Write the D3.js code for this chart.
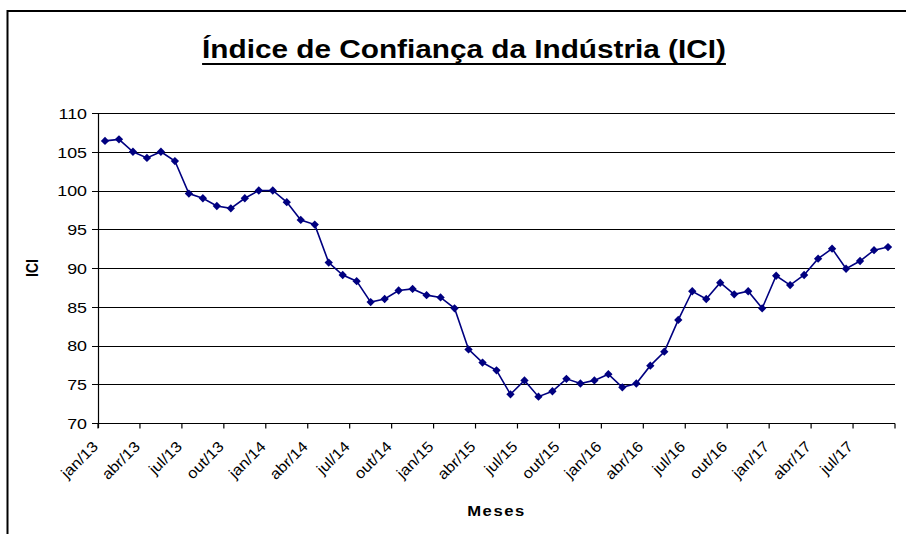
<!DOCTYPE html>
<html>
<head>
<meta charset="utf-8">
<script src="https://cdn.jsdelivr.net/npm/d3@7"></script>
<style>
  body { margin: 0; background: #fff; }
  svg text { font-family: "Liberation Sans", Arial, sans-serif; fill: #000; }
</style>
</head>
<body>
<div id="chart"></div>
<script>
// months jan/13 .. set/17
const months = [
    "jan/13", "fev/13", "mar/13", "abr/13", "mai/13", "jun/13", "jul/13", "ago/13", "set/13", "out/13", "nov/13", "dez/13",
    "jan/14", "fev/14", "mar/14", "abr/14", "mai/14", "jun/14", "jul/14", "ago/14", "set/14", "out/14", "nov/14", "dez/14",
    "jan/15", "fev/15", "mar/15", "abr/15", "mai/15", "jun/15", "jul/15", "ago/15", "set/15", "out/15", "nov/15", "dez/15",
    "jan/16", "fev/16", "mar/16", "abr/16", "mai/16", "jun/16", "jul/16", "ago/16", "set/16", "out/16", "nov/16", "dez/16",
    "jan/17", "fev/17", "mar/17", "abr/17", "mai/17", "jun/17", "jul/17", "ago/17", "set/17"
];
const iciValues = [
    106.4, 106.6, 105.0, 104.2, 105.0, 103.8, 99.6, 99.0, 98.0, 97.7, 99.0, 100.0,
    100.0, 98.5, 96.2, 95.6, 90.7, 89.1, 88.3, 85.6, 86.0, 87.1, 87.3, 86.5,
    86.2, 84.8, 79.5, 77.8, 76.8, 73.7, 75.5, 73.4, 74.1, 75.7, 75.1, 75.5,
    76.3, 74.6, 75.1, 77.4, 79.2, 83.3, 87.0, 86.0, 88.1, 86.6, 87.0, 84.8,
    89.0, 87.8, 89.1, 91.2, 92.5, 89.9, 90.9, 92.3, 92.7
];
const yTicks = [70, 75, 80, 85, 90, 95, 100, 105, 110];
const titleText = "Índice de Confiança da Indústria (ICI)";

const width = 906, height = 534;
const margin = { top: 113, right: 11, bottom: 111, left: 98 };
const plotW = width - margin.left - margin.right;
const plotH = height - margin.top - margin.bottom;
const stretch = 1.19; // the original picture is a bit wider than tall

const svg = d3.select("#chart").append("svg")
    .attr("width", width)
    .attr("height", height);

// outer chart frame (partly outside the picture)
svg.append("path")
    .attr("d", "M7.5,540V11H910")
    .attr("fill", "none")
    .attr("stroke", "#000")
    .attr("stroke-width", 2);

// title
const title = svg.append("text")
    .attr("transform", `translate(464,58) scale(${stretch},1)`)
    .attr("text-anchor", "middle")
    .style("font-size", "25px")
    .style("font-weight", "bold")
    .text(titleText);
const tw = title.node().getComputedTextLength() * stretch;
svg.append("line")
    .attr("x1", 464 - tw / 2).attr("x2", 464 + tw / 2)
    .attr("y1", 64).attr("y2", 64)
    .attr("stroke", "#000")
    .attr("stroke-width", 2.2);

const g = svg.append("g")
    .attr("transform", `translate(${margin.left},${margin.top})`);

const x = d3.scaleBand().domain(months).range([0, plotW]);
const y = d3.scaleLinear().domain([70, 110]).range([plotH, 0]);

// gridlines + left ticks
g.append("g")
    .selectAll("line")
    .data(yTicks)
    .join("line")
    .attr("x1", -6).attr("x2", plotW)
    .attr("y1", d => Math.round(y(d)) + 0.5)
    .attr("y2", d => Math.round(y(d)) + 0.5)
    .attr("stroke", "#000")
    .attr("stroke-width", 1.2);

// y axis
g.append("g")
    .call(d3.axisLeft(y).tickValues(yTicks).tickSize(6).tickPadding(4))
    .call(a => a.select(".domain").remove())
    .call(a => a.selectAll("line").remove())
    .call(a => a.selectAll("text")
        .style("font-size", "15px")
        .attr("font-family", null)
        .attr("x", -11 / stretch)
        .attr("transform", `scale(${stretch},1)`)
        .attr("dy", "0.36em"));

g.append("line")
    .attr("x1", 0.5).attr("x2", 0.5)
    .attr("y1", 0).attr("y2", plotH + 5)
    .attr("stroke", "#000")
    .attr("stroke-width", 1.2);

// x axis: ticks every 3 months on category boundaries
const tickMonths = months.filter((m, i) => i % 3 === 0);
const xAxis = g.append("g")
    .attr("transform", `translate(0,${Math.round(plotH) + 0.5})`);
xAxis.append("line")
    .attr("x1", 0).attr("x2", plotW)
    .attr("stroke", "#000")
    .attr("stroke-width", 1.2);
xAxis.selectAll(".xt")
    .data(tickMonths.concat(["end"]))
    .join("line")
    .attr("class", "xt")
    .attr("x1", d => d === "end" ? plotW : x(d))
    .attr("x2", d => d === "end" ? plotW : x(d))
    .attr("y1", 0).attr("y2", 5)
    .attr("stroke", "#000")
    .attr("stroke-width", 1.2);
xAxis.selectAll(".xl")
    .data(tickMonths)
    .join("text")
    .attr("class", "xl")
    .attr("text-anchor", "end")
    .attr("transform", d => `translate(${x(d) + 1},${24}) rotate(-45) scale(1.1,1)`)
    .style("font-size", "15px")
    .text(d => d);

// axis titles
svg.append("text")
    .attr("transform", `translate(38,${margin.top + plotH / 2}) scale(${stretch},1) rotate(-90)`)
    .attr("text-anchor", "middle")
    .style("font-size", "14px")
    .style("font-weight", "bold")
    .text("ICI");

svg.append("text")
    .attr("transform", `translate(${margin.left + plotW / 2},516) scale(${stretch},1)`)
    .attr("text-anchor", "middle")
    .style("font-size", "14px")
    .style("font-weight", "bold")
    .style("letter-spacing", "1.3px")
    .text("Meses");

// series
const cx = (d, i) => x(months[i]) + x.bandwidth() / 2;
g.append("path")
    .datum(iciValues)
    .attr("fill", "none")
    .attr("stroke", "#000080")
    .attr("stroke-width", 1.6)
    .attr("d", d3.line().x(cx).y(d => y(d)));

g.selectAll(".pt")
    .data(iciValues)
    .join("path")
    .attr("class", "pt")
    .attr("transform", (d, i) => `translate(${cx(d, i)},${y(d)})`)
    .attr("d", d3.symbol(d3.symbolDiamond2, 44))
    .attr("fill", "#000080");
</script>
</body>
</html>
